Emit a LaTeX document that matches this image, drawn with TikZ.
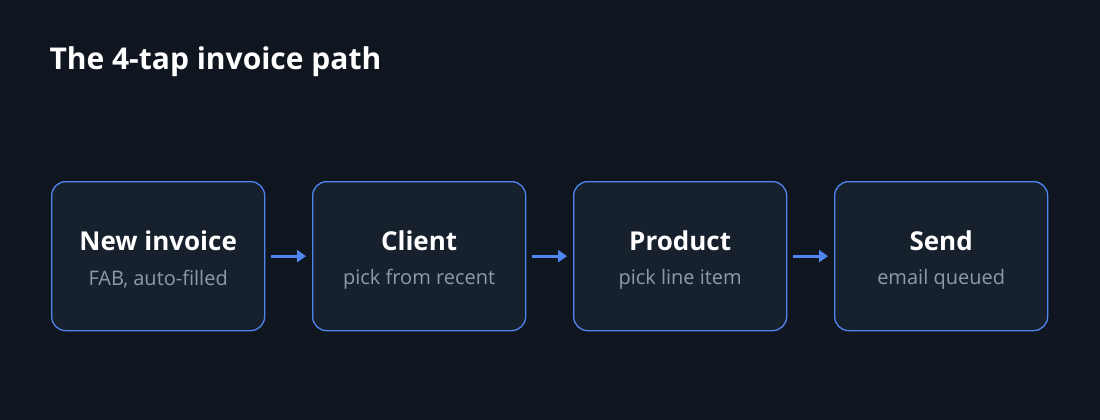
\documentclass[tikz,border=0pt]{standalone}
\usepackage{fontspec}
\setmainfont{Open Sans}
\usetikzlibrary{arrows.meta}
\definecolor{bg}{HTML}{0F1620}
\definecolor{boxf}{HTML}{17212E}
\definecolor{edge}{HTML}{4F86F0}
\definecolor{sub}{HTML}{8E9AAA}
\begin{document}
\begin{tikzpicture}[x=1pt,y=-1pt,
  stepbox/.style={draw=edge,line width=1.3pt,fill=boxf,rounded corners=14pt,minimum width=213pt,minimum height=149pt,anchor=north west},
  ttl/.style={text=white,font=\bfseries\fontsize{26}{30}\selectfont},
  st/.style={text=sub,font=\fontsize{20}{24}\selectfont},
  arr/.style={draw=edge,line width=3pt,-{Triangle[length=9pt,width=12pt]}}]
\fill[bg] (0,0) rectangle (1100,420);
\useasboundingbox (0,0) rectangle (1100,420);
\node[anchor=west,text=white,font=\bfseries\fontsize{30}{34}\selectfont] (title) at (46,62) {The 4-tap invoice path};
\foreach \n/\x/\a/\b in {a/51/New invoice/{FAB, auto-filled},b/312/Client/pick from recent,c/573/Product/pick line item,d/834/Send/email queued}{
  \node[stepbox] (\n) at (\x,181) {};
  \node[ttl] (\n t) at ([yshift=15pt]\n.center) {\a};
  \node[st] (\n s) at ([yshift=-23pt]\n.center) {\b};
}
\draw[arr] ([xshift=6pt]a.east) -- ([xshift=-6pt]b.west);
\draw[arr] ([xshift=6pt]b.east) -- ([xshift=-6pt]c.west);
\draw[arr] ([xshift=6pt]c.east) -- ([xshift=-6pt]d.west);
\end{tikzpicture}
\end{document}
